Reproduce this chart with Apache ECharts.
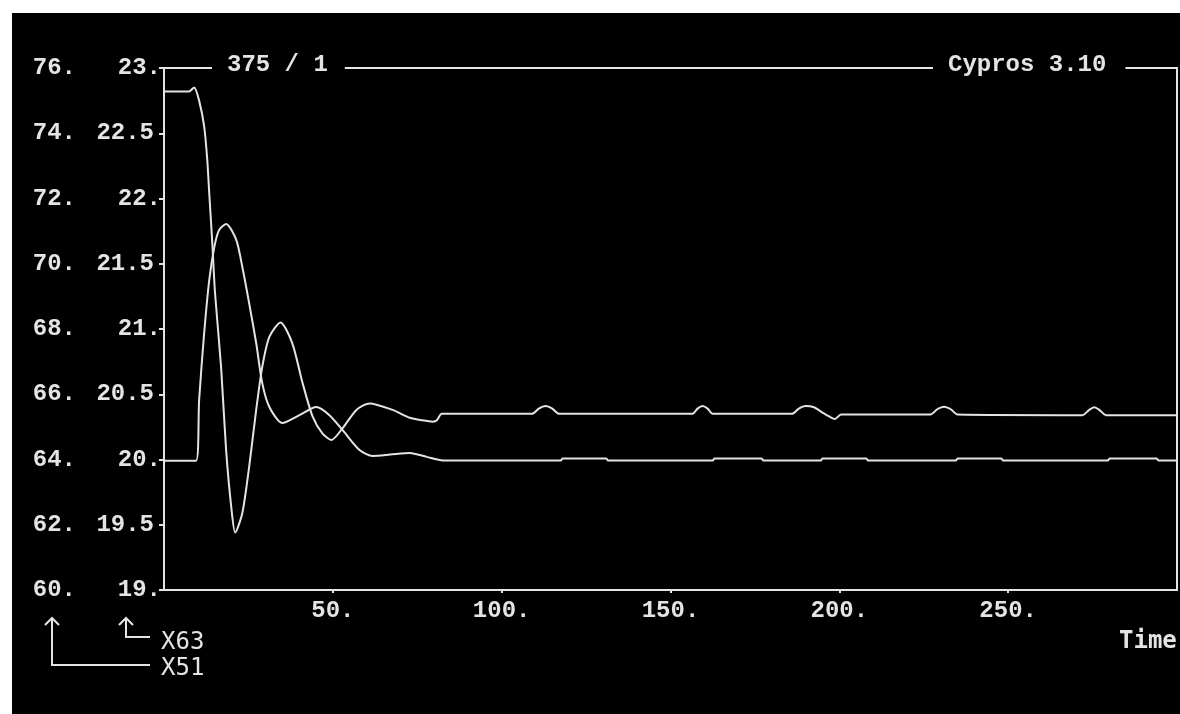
<!DOCTYPE html>
<html>
<head>
<meta charset="utf-8">
<script src="https://cdn.jsdelivr.net/npm/echarts/dist/echarts.min.js"></script>
<style>
  html, body { margin: 0; padding: 0; background: #fff; }
  #chart { width: 1180px; height: 714px; }
</style>
</head>
<body>
<div id="chart"></div>
<script>
// Channel X63 (inner scale, 19 .. 23)
const timeX63 = [0, 7.4, 8.9, 10.4, 11.9, 12.8, 13.4, 14.3, 15.1, 16.9,
  18.4, 19.9, 21.1, 23.2, 25.2, 27.3, 29.1, 31.2, 34.5, 38.0,
  41.0, 44.0, 46.9, 49.6, 52.9, 57.0, 60.9, 67.7, 72.8, 76.5,
  79.6, 80.8, 82.3,
  109, 111, 113, 115, 117,
  156.5, 158, 159.5, 161, 162.5,
  186, 188, 190, 192.5, 195, 197, 198.7, 200.5,
  227, 229, 231, 233, 235,
  272, 274, 275.5, 277, 279,
  300];
const valX63 = [22.82, 22.82, 22.85, 22.75, 22.55, 22.30, 22.04, 21.66, 21.28, 20.71,
  20.07, 19.64, 19.44, 19.59, 19.94, 20.38, 20.71, 20.94, 21.05, 20.89,
  20.59, 20.33, 20.20, 20.15, 20.24, 20.38, 20.43, 20.38, 20.32, 20.30,
  20.29, 20.30, 20.35,
  20.35, 20.39, 20.41, 20.39, 20.35,
  20.35, 20.39, 20.41, 20.39, 20.35,
  20.35, 20.39, 20.41, 20.40, 20.36, 20.33, 20.31, 20.345,
  20.345, 20.385, 20.405, 20.385, 20.345,
  20.34, 20.38, 20.40, 20.38, 20.34,
  20.34];

// Channel X51 (outer scale, 60 .. 76)
const timeX51 = [0, 9.5, 10.4, 11.9, 13.4, 14.9, 16.3, 18.4, 21.4,
  23.2, 25.2, 27.3, 29.1, 31.2, 35.0, 40.1, 45.1, 49.0, 52.9,
  57.9, 61.8, 67.0, 72.8, 77.8, 82.6,
  117.5, 118, 131, 131.5,
  162.5, 163, 177, 177.5,
  194.5, 195, 208, 208.5,
  234.5, 235, 248, 248.5,
  279.5, 280, 294, 294.5,
  300];
const valX51 = [63.96, 63.96, 65.82, 67.88, 69.50, 70.51, 71.03, 71.22, 70.73,
  69.90, 68.80, 67.57, 66.34, 65.61, 65.12, 65.36, 65.61, 65.36, 64.90,
  64.29, 64.11, 64.15, 64.20, 64.08, 63.97,
  63.97, 64.03, 64.03, 63.97,
  63.97, 64.03, 64.03, 63.97,
  63.97, 64.03, 64.03, 63.97,
  63.97, 64.03, 64.03, 63.97,
  63.97, 64.03, 64.03, 63.97,
  63.97];

const timeRange = [0, 300];
const timeStep = 50;
const rangeX63 = [19, 23];
const stepX63 = 0.5;
const rangeX51 = [60, 76];
const stepX51 = 2;

const headerLeft = '375 / 1';
const headerRight = 'Cypros 3.10';
const timeName = 'Time';
const nameX63 = 'X63';
const nameX51 = 'X51';

const INK = '#e4e4e4';
const MONO = '"Liberation Mono", "DejaVu Sans Mono", monospace';
const MONO2 = '"DejaVu Sans Mono", "Liberation Mono", monospace';

function pairs(ts, vs) { return ts.map((t, i) => [t, vs[i]]); }

// axis numbers carry a trailing dot when whole
function tickText(v) {
  if (Math.abs(v - Math.round(v)) < 1e-9) return Math.round(v) + '.';
  return '{h|' + v + '}';
}

const labelBase = {
  color: INK, fontFamily: MONO, fontWeight: 'bold', fontSize: 24
};

const chart = echarts.init(document.getElementById('chart'));
chart.setOption({
  backgroundColor: '#000',
  animation: false,
  grid: { left: 164, right: 3, top: 68, bottom: 124, containLabel: false },
  title: [
    {
      text: headerLeft, left: 212, top: 53, padding: [0, 17, 0, 15],
      backgroundColor: '#000',
      textStyle: { color: INK, fontFamily: MONO, fontWeight: 'bold', fontSize: 24, lineHeight: 24 }
    },
    {
      text: headerRight, left: 933, top: 53, padding: [0, 19, 0, 15],
      backgroundColor: '#000',
      textStyle: { color: INK, fontFamily: MONO, fontWeight: 'bold', fontSize: 24, lineHeight: 24 }
    }
  ],
  xAxis: [
    {
      type: 'value', position: 'bottom',
      min: timeRange[0], max: timeRange[1], interval: timeStep,
      axisLine: { show: true, lineStyle: { color: INK, width: 2 } },
      axisTick: { show: true, length: 3, lineStyle: { color: INK, width: 2 } },
      splitLine: { show: false },
      axisLabel: Object.assign({}, labelBase, {
        margin: 9, showMinLabel: false, showMaxLabel: false,
        formatter: v => v + '.'
      })
    },
    {
      type: 'value', position: 'top',
      min: timeRange[0], max: timeRange[1],
      axisLine: { show: true, lineStyle: { color: INK, width: 2 } },
      axisTick: { show: false }, axisLabel: { show: false }, splitLine: { show: false }
    }
  ],
  yAxis: [
    {
      type: 'value', position: 'left', offset: 1,
      min: rangeX63[0], max: rangeX63[1], interval: stepX63,
      axisLine: { show: true, lineStyle: { color: INK, width: 2 } },
      axisTick: { show: true, length: 5, lineStyle: { color: INK, width: 2 } },
      splitLine: { show: false },
      axisLabel: Object.assign({}, labelBase, {
        margin: 2, formatter: tickText,
        rich: { h: Object.assign({}, labelBase, { padding: [0, 7, 0, 0] }) }
      })
    },
    {
      type: 'value', position: 'left', offset: 86,
      min: rangeX51[0], max: rangeX51[1], interval: stepX51,
      axisLine: { show: true, lineStyle: { color: INK, width: 2 } },
      axisTick: { show: true, length: 5, lineStyle: { color: INK, width: 2 } },
      splitLine: { show: false },
      axisLabel: Object.assign({}, labelBase, { margin: 2, formatter: tickText })
    },
    {
      type: 'value', position: 'right', min: 0, max: 1,
      axisLine: { show: true, lineStyle: { color: INK, width: 2 } },
      axisTick: { show: false }, axisLabel: { show: false }, splitLine: { show: false }
    }
  ],
  graphic: [
    // light border of the screen photo
    { type: 'rect', shape: { x: 0, y: 0, width: 1180, height: 13 }, style: { fill: '#fff' } },
    { type: 'rect', shape: { x: 0, y: 0, width: 12, height: 714 }, style: { fill: '#fff' } },
    // axis-name pointers
    { type: 'polyline', shape: { points: [[119, 625], [126, 618], [133, 625]] },
      style: { stroke: INK, lineWidth: 2, fill: null } },
    { type: 'polyline', shape: { points: [[126, 618], [126, 637], [150, 637]] },
      style: { stroke: INK, lineWidth: 2, fill: null } },
    { type: 'polyline', shape: { points: [[45, 625], [52, 618], [59, 625]] },
      style: { stroke: INK, lineWidth: 2, fill: null } },
    { type: 'polyline', shape: { points: [[52, 618], [52, 665], [150, 665]] },
      style: { stroke: INK, lineWidth: 2, fill: null } },
    { type: 'text', x: 161, y: 643,
      style: { text: nameX63, fill: INK, font: '24px ' + MONO2, textVerticalAlign: 'middle' } },
    { type: 'text', x: 161, y: 669,
      style: { text: nameX51, fill: INK, font: '24px ' + MONO2, textVerticalAlign: 'middle' } },
    { type: 'text', x: 1119, y: 642,
      style: { text: timeName, fill: INK, font: 'bold 24px ' + MONO2, textVerticalAlign: 'middle' } }
  ],
  series: [
    {
      name: nameX63, type: 'line', xAxisIndex: 0, yAxisIndex: 0,
      data: pairs(timeX63, valX63), showSymbol: false, symbol: 'none',
      smooth: 0.25,
      lineStyle: { color: INK, width: 2 }
    },
    {
      name: nameX51, type: 'line', xAxisIndex: 0, yAxisIndex: 1,
      data: pairs(timeX51, valX51), showSymbol: false, symbol: 'none',
      smooth: 0.25,
      lineStyle: { color: INK, width: 2 }
    }
  ]
});
</script>
</body>
</html>
